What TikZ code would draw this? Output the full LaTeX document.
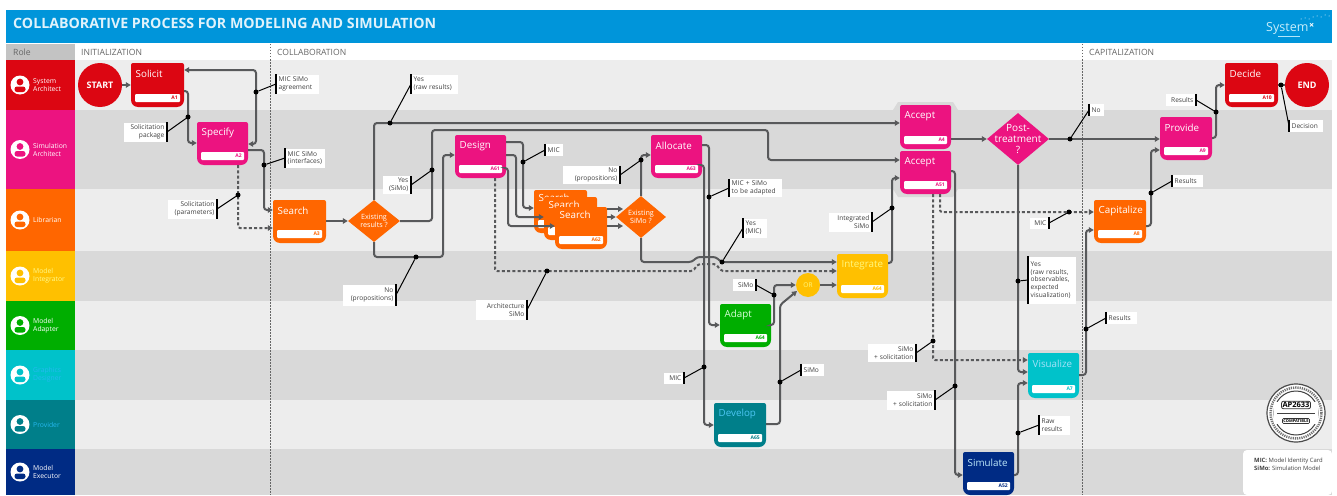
\documentclass[tikz,border=0pt]{standalone}
\usepackage{fontspec}
\setmainfont{Open Sans}
\usetikzlibrary{arrows.meta,shapes.geometric,calc}
\definecolor{cred}{HTML}{DC0612}
\definecolor{cpink}{HTML}{EC1380}
\definecolor{corange}{HTML}{FF6600}
\definecolor{cyellow}{HTML}{FFC000}
\definecolor{cgreen}{HTML}{00AE00}
\definecolor{ccyan}{HTML}{00C2CA}
\definecolor{cteal}{HTML}{007F8A}
\definecolor{cnavy}{HTML}{002B84}
\definecolor{cblue}{HTML}{0095DA}
\definecolor{bandL}{HTML}{EDEDED}
\definecolor{bandD}{HTML}{D9D9D9}
\definecolor{wire}{HTML}{58595B}
\tikzset{
  x=1pt,y=-1pt,
  flow/.style={draw=wire,line width=2pt,rounded corners=3pt,-{Triangle[length=5pt,width=5.5pt]}},
  flowplain/.style={draw=wire,line width=2pt,rounded corners=3pt},
  dflow/.style={draw=wire,line width=2pt,dash pattern=on 3pt off 2.2pt,rounded corners=2pt,-{Triangle[length=5pt,width=5.5pt]}},
  call/.style={draw=black,line width=1pt},
  bardraw/.style={draw=black,line width=1.3pt},
  jdot/.style={circle,fill=black,inner sep=0pt,minimum size=5pt},
  lbl/.style={fill=white,inner sep=0pt,font=\fontsize{6.6}{7.8}\selectfont,text=black!75},
  hdr/.style={font=\fontsize{8.6}{9}\selectfont,text=black!60,anchor=west,inner sep=0pt},
  role/.style={font=\fontsize{6.8}{8}\selectfont,anchor=west,align=left,inner sep=0pt},
  title/.style={font=\fontsize{9.8}{11}\selectfont,anchor=west,inner sep=0pt},
  dia/.style={diamond,aspect=1.2,inner sep=0pt,text=white,align=center},
}
\def\titleoff{11}
% name, x1, y1, x2, y2, colour, title colour, title, id
\newcommand{\proc}[9]{%
  \path[fill=#6,rounded corners=2pt] (#2,{(#3+#5)/2}) -- (#2,#3) -- (#4,#3) -- (#4,{(#3+#5)/2})
     [rounded corners=7pt] -- (#4,#5) -- (#2,#5) -- cycle;
  \node[inner sep=0pt,minimum width={(#4-#2)*1pt},minimum height={(#5-#3)*1pt}] (#1) at ({(#2+#4)/2},{(#3+#5)/2}) {};
  \node[title,text=#7] (#1t) at (#2+4.5,#3+\titleoff) {#8};
  \path[fill=white,rounded corners=1pt] (#2+4,#5-13) rectangle (#4-4,#5-5);
  \node[inner sep=0pt,anchor=east,text=#6,font=\bfseries\fontsize{5}{5}\selectfont] (#1i) at (#4-6,#5-9) {#9};
}
% name, x, y(centre), w, h, side (l: bar on left, r: bar on right), text
\newcommand{\lab}[7]{%
  \ifx l#6\relax
    \node[lbl,anchor=west,minimum width=#4*1pt,minimum height=#5*1pt,text width=(#4-5)*1pt,align=left] (#1) at (#2,#3) {#7};
    \draw[bardraw] (#1.north west) -- (#1.south west);
  \else
    \node[lbl,anchor=east,minimum width=#4*1pt,minimum height=#5*1pt,text width=(#4-5)*1pt,align=right] (#1) at (#2,#3) {#7};
    \draw[bardraw] (#1.north east) -- (#1.south east);
  \fi
}
% name, y-top, y-bottom, colour, text colour, text
\newcommand{\rolecell}[6]{%
  \fill[#4] (6,#2) rectangle (75,#3);
  \node[circle,fill=white,minimum size=19pt,inner sep=0pt] (#1) at (20,{(#2+#3)/2}) {};
  \fill[#4] ($(#1)+(0,-3)$) circle (3.4pt);
  \fill[#4,rounded corners=2.5pt] ($(#1)+(-5.5,7)$) -- ($(#1)+(-5.5,1.5)$) -- ($(#1)+(5.5,1.5)$) -- ($(#1)+(5.5,7)$) -- cycle;
  \node[role,text=#5] (#1t) at (33,{(#2+#3)/2}) {#6};
}
\begin{document}
\begin{tikzpicture}
\useasboundingbox (0,0) rectangle (1337,495);
\fill[white] (0,0) rectangle (1337,495);
% bands
\fill[bandL] (75,60) rectangle (1332,110);
\fill[bandD] (75,110) rectangle (1332,189);
\fill[bandL] (75,189) rectangle (1332,251);
\fill[bandD] (75,251) rectangle (1332,301);
\fill[bandL] (75,301) rectangle (1332,350);
\fill[bandD] (75,350) rectangle (1332,400);
\fill[bandL] (75,400) rectangle (1332,449);
\fill[bandD] (75,449) rectangle (1332,495);
% header
\fill[cblue] (6,10) rectangle (1332,43);
\node[anchor=west,inner sep=0pt,text=white!88!cblue,font=\bfseries\fontsize{14.2}{15}\selectfont] (maintitle) at (13,23) {COLLABORATIVE PROCESS FOR MODELING AND SIMULATION};
\node[anchor=west,inner sep=0pt,text=cyan!22,font=\fontsize{12.5}{13}\selectfont] (logo) at (1266,28) {System};
\node[anchor=west,inner sep=0pt,text=white,font=\bfseries\fontsize{9}{9}\selectfont] (logox) at (1309,26) {×};
\foreach \px/\py in {1301/19,1305/18,1309/19,1313/17,1317/16,1321/17,1325/15,1329/16}
  \fill[white] (\px,\py) circle (.5pt);
\fill[cyan!30] (1278,36) rectangle (1300,37);
\fill[bandD!90!black] (6,44) rectangle (75,60);
\node[hdr] (rolehdr) at (13,52) {Role};
\node[hdr] (h1) at (81,52) {INITIALIZATION};
\node[hdr] (h2) at (277,52) {COLLABORATION};
\node[hdr] (h3) at (1089,52) {CAPITALIZATION};
% roles
\rolecell{r1}{60}{110}{cred}{white}{System\\Architect}
\rolecell{r2}{110}{189}{cpink}{white}{Simulation\\Architect}
\rolecell{r3}{189}{251}{corange}{white}{Librarian}
\rolecell{r4}{251}{301}{cyellow}{yellow!45}{Model\\Integrator}
\rolecell{r5}{301}{350}{cgreen}{white}{Model\\Adapter}
\rolecell{r6}{350}{400}{ccyan}{cyan!85!white}{Graphics\\Designer}
\rolecell{r7}{400}{449}{cteal}{cyan!85!white}{Provider}
\rolecell{r8}{449}{495}{cnavy}{white}{Model\\Executor}
% phase separators
\draw[black!60,line width=1pt,dash pattern=on 1.5pt off 1.5pt] (270,44) -- (270,495);
\draw[black!60,line width=1pt,dash pattern=on 1.5pt off 1.5pt] (1082,44) -- (1082,495);
% halo around the accept activities
\fill[bandD] (898,102) -- (953,102) -- (958,110) -- (958,189) -- (953,197) -- (898,197) -- (893,189) -- (893,110) -- cycle;
% activities
\node[circle,fill=cred,minimum size=44pt,inner sep=0pt,text=white,font=\bfseries\fontsize{9}{9}\selectfont] (start) at (100,85) {START};
\node[circle,fill=cred,minimum size=44pt,inner sep=0pt,text=white,font=\bfseries\fontsize{9}{9}\selectfont] (end) at (1307,85) {END};
\proc{solicit}{131}{63}{184}{107}{cred}{white}{Solicit}{A1}
\proc{specify}{197}{122}{248}{165}{cpink}{white}{Specify}{A2}
\proc{search}{273}{200}{326}{243}{corange}{white}{Search}{A3}
\proc{design}{455}{135}{506}{178}{cpink}{white}{Design}{A61}
\proc{allocate}{651}{135}{702}{178}{cpink}{white}{Allocate}{A63}
\def\titleoff{8}
\proc{searchc}{534}{190}{587}{233}{corange}{white}{Search}{A62}
\proc{searchb}{544}{197}{597}{240}{corange}{white}{Search}{A62}
\proc{searcha}{555}{207}{607}{249}{corange}{white}{Search}{A62}
\def\titleoff{11}
\proc{accepta}{900}{105}{951}{149}{cpink}{white}{Accept}{A4}
\proc{acceptb}{900}{151}{951}{194}{cpink}{white}{Accept}{A51}
\proc{provide}{1160}{117}{1212}{160}{cpink}{white}{Provide}{A9}
\proc{decide}{1225}{63}{1278}{107}{cred}{white}{Decide}{A10}
\proc{capitalize}{1094}{200}{1146}{243}{corange}{white}{Capitalize}{A8}
\proc{integrate}{837}{254}{888}{298}{cyellow}{yellow!50}{Integrate}{A64}
\proc{adapt}{720}{304}{771}{347}{cgreen}{green!15!white}{Adapt}{A64}
\proc{develop}{714}{403}{766}{447}{cteal}{cyan!70!white}{Develop}{A65}
\proc{simulate}{963}{452}{1014}{495}{cnavy}{cyan!25!white}{Simulate}{A52}
\proc{visualize}{1028}{353}{1079}{398}{ccyan}{cyan!35!white}{Visualize}{A7}
\node[circle,fill=cyellow,minimum size=24pt,inner sep=0pt,text=yellow!50,font=\fontsize{6.5}{7}\selectfont] (orgate) at (808,285) {OR};
\node[dia,fill=corange,minimum width=52pt,minimum height=42pt] (exresults) at (374,221) {};
\node[text=white,align=center,inner sep=0pt,font=\fontsize{7.2}{8}\selectfont] (exresultst) at (exresults) {Existing\\results ?};
\node[dia,fill=corange,minimum width=50pt,minimum height=42pt] (exsimo) at (641,217) {};
\node[text=white,align=center,inner sep=0pt,font=\fontsize{7.2}{8}\selectfont] (exsimot) at (exsimo) {Existing\\SiMo ?};
\node[dia,fill=cpink,minimum width=62pt,minimum height=52pt] (post) at (1018,139) {};
\node[text=white,align=center,inner sep=0pt,font=\fontsize{10}{10.5}\selectfont] (postt) at (post) {Post-\\treatment\\?};
% connectors
\draw[flow] (start.east) -- (solicit.west|-0,85);
\draw[flow,{Triangle[length=5pt,width=5.5pt]}-{Triangle[length=5pt,width=5.5pt]}] (solicit.east|-0,70) -- (256,70) -- (256,144) -- (specify.east|-0,144);
\draw[flow] (solicit.east|-0,91) -- (188,91) -- (188,143) -- (specify.west|-0,143);
\draw[flow] (specify.east|-0,150) -- (264,150) -- (264,210) -- (search.west|-0,210);
\draw[dflow] (238,0|-specify.south) -- (238,228) -- (search.west|-0,228);
\draw[flow] (search.east|-0,221) -- (exresults.west);
\draw[flow] (exresults.east) -- (432,221) -- (432,130) -- (768,130) -- (768,160) -- (acceptb.west|-0,160);
\draw[flow] (exresults.north) -- (374,123) -- (accepta.west|-0,123);
\draw[flow] (exresults.south) -- (374,257) -- (443,257) -- (443,155) -- (design.west|-0,155);
\draw[flow] (design.east|-0,142) -- (523,142) -- (523,208) -- (searchc.west|-0,208);
\draw[flow] (design.east|-0,155) -- (516,155) -- (516,217) -- (searchb.west|-0,217);
\draw[flow] (design.east|-0,168) -- (508,168) -- (508,226) -- (searcha.west|-0,226);
\draw[flow] (searcha.east|-0,209) -- (623,209);
\draw[flow] (searcha.east|-0,217) -- (exsimo.west);
\draw[flow] (searcha.east|-0,226) -- (623,226);
\draw[dflow] (495,0|-design.south) -- (495,271) -- (693,271) -- (698,264) -- (716,264) -- (721,271) -- (integrate.west|-0,271);
\draw[flow] (exsimo.north) -- (641,155) -- (allocate.west|-0,155);
\draw[flow] (exsimo.south) -- (641,262) -- (692,262) -- (697,257) -- (716,257) -- (721,262) -- (integrate.west|-0,262);
\draw[flow] (allocate.east|-0,145) -- (709,145) -- (709,325) -- (adapt.west|-0,325);
\draw[flow] (allocate.east|-0,165) -- (704,165) -- (704,425) -- (develop.west|-0,425);
\draw[flow] (adapt.east|-0,325) -- (774,325) -- (774,285) -- (orgate.west);
\draw[flow] (develop.east|-0,424) -- (780,424) -- (780,305) -- (797,291);
\draw[flow] (orgate.east) -- (integrate.west|-0,285);
\draw[flow] (integrate.east|-0,263) -- (892,263) -- (892,178) -- (acceptb.west|-0,178);
\draw[flow] (acceptb.east|-0,171) -- (955,171) -- (955,475) -- (simulate.west|-0,475);
\draw[dflow] (933,0|-acceptb.south) -- (933,360) -- (visualize.west|-0,360);
\draw[dflow] (940,0|-acceptb.south) -- (940,212) -- (capitalize.west|-0,212);
\draw[flow] (post.south) -- (1018,372) -- (visualize.west|-0,372);
\draw[flow] (simulate.east|-0,475) -- (1018,475) -- (1018,383) -- (visualize.west|-0,383);
\draw[flow] (visualize.east|-0,375) -- (1086,375) -- (1086,230) -- (capitalize.west|-0,230);
\draw[flow] (accepta.east|-0,139) -- (post.west);
\draw[flow] (post.east) -- (provide.west|-0,139);
\draw[flow] (capitalize.east|-0,226) -- (1151,226) -- (1151,150) -- (provide.west|-0,150);
\draw[flow] (provide.east|-0,138) -- (1216,138) -- (1216,85) -- (decide.west|-0,85);
\draw[flowplain] (decide.east|-0,85) -- (end.west);
% labels and their callouts
\lab{l1}{276}{84}{43}{19}{l}{MIC SiMo\\agreement}
\node[jdot] (d1) at (256,92) {}; \draw[call] (d1) -- (l1.west);
\lab{l2}{167}{132}{43}{19}{r}{Solicitation\\package}
\node[jdot] (d2) at (188,117) {}; \draw[call] (d2) -- (l2.east);
\lab{l3}{285}{158}{40}{19}{l}{MIC SiMo\\(interfaces)}
\node[jdot] (d3) at (264,165) {}; \draw[call] (d3) -- (l3.west);
\lab{l4}{217}{209}{49}{19}{r}{Solicitation\\(parameters)}
\node[jdot] (d4) at (238,195) {}; \draw[call] (d4) -- (l4.east);
\lab{l5}{411}{84}{47}{19}{l}{Yes\\(raw results)}
\node[jdot] (d5) at (390,123) {}; \draw[call] (d5) -- (l5.west);
\lab{l6}{411}{185}{28}{18}{r}{Yes\\(SiMo)}
\node[jdot] (d6) at (432,170) {}; \draw[call] (d6) -- (l6.east);
\lab{l7}{396}{295}{53}{21}{r}{No\\(propositions)}
\node[jdot] (d7) at (416,257) {}; \draw[call] (d7) -- (l7.east);
\lab{l8}{545}{150}{18}{12}{l}{MIC}
\node[jdot] (d8) at (523,162) {}; \draw[call] (d8) -- (l8.west);
\lab{l9}{620}{175}{57}{18}{r}{No\\(propositions)}
\node[jdot] (d9) at (641,160) {}; \draw[call] (d9) -- (l9.east);
\lab{l10}{729}{188}{53}{18}{l}{MIC + SiMo\\to be adapted}
\node[jdot] (d10) at (709,197) {}; \draw[call] (d10) -- (l10.west);
\lab{l11}{743}{228}{24}{19}{l}{Yes\\(MIC)}
\node[jdot] (d11) at (722,262) {}; \draw[call] (d11) -- (l11.west);
\lab{l12}{527}{310}{51}{20}{r}{Architecture\\SiMo}
\node[jdot] (d12) at (547,271) {}; \draw[call] (d12) -- (l12.east);
\lab{l13}{756}{285}{23}{12}{r}{SiMo}
\node[jdot] (d13) at (774,295) {}; \draw[call] (d13) -- (l13.east);
\lab{l14}{801}{370}{23}{12}{l}{SiMo}
\node[jdot] (d14) at (780,382) {}; \draw[call] (d14) -- (l14.west);
\lab{l15}{684}{378}{20}{11}{r}{MIC}
\node[jdot] (d15) at (704,367) {}; \draw[call] (d15) -- (l15.east);
\lab{l16}{872}{222}{43}{19}{r}{Integrated\\SiMo}
\node[jdot] (d16) at (892,208) {}; \draw[call] (d16) -- (l16.east);
\lab{l17}{935}{400}{48}{19}{r}{SiMo\\+ solicitation}
\node[jdot] (d17) at (955,386) {}; \draw[call] (d17) -- (l17.east);
\lab{l18}{916}{353}{48}{18}{r}{SiMo\\+ solicitation}
\node[jdot] (d18) at (933,341) {}; \draw[call] (d18) -- (l18.east);
\lab{l19}{1049}{223}{19}{11}{r}{MIC}
\node[jdot] (d19) at (1069,212) {}; \draw[call] (d19) -- (l19.east);
\lab{l20}{1028}{280}{48}{47}{l}{Yes\\(raw results,\\observables,\\expected\\visualization)}
\node[jdot] (d20) at (1018,281) {}; \draw[call] (d20) -- (l20.west);
\lab{l21}{1039}{425}{31}{19}{l}{Raw\\results}
\node[jdot] (d21) at (1018,433) {}; \draw[call] (d21) -- (l21.west);
\lab{l22}{1106}{318}{31}{12}{l}{Results}
\node[jdot] (d22) at (1086,329) {}; \draw[call] (d22) -- (l22.west);
\lab{l23}{1089}{110}{15}{12}{l}{No}
\node[jdot] (d23) at (1070,139) {}; \draw[call] (d23) -- (l23.west);
\lab{l24}{1172}{181}{31}{12}{l}{Results}
\node[jdot] (d24) at (1151,193) {}; \draw[call] (d24) -- (l24.west);
\lab{l25}{1196}{100}{30}{12}{r}{Results}
\node[jdot] (d25) at (1216,112) {}; \draw[call] (d25) -- (l25.east);
\lab{l26}{1289}{126}{34}{12}{l}{Decision}
\node[jdot] (d26) at (1281,85) {}; \draw[call] (d26) -- (l26.west);
% stamp
\node[circle,draw=black!70,fill=white,line width=1.2pt,minimum size=58pt,inner sep=0pt] (stamp) at (1296,413) {};
\draw[black!55,line width=2.5pt,dash pattern=on 1.2pt off 1pt] (stamp) circle (25.5pt);
\draw[black!75,line width=1pt] (stamp) circle (22pt);
\fill[white] (1274,402) rectangle (1318,424);
\draw[black!75,line width=1pt] (1277,413) -- (1315,413);
\node[draw=black!80,fill=white,rounded corners=2pt,inner sep=1pt,line width=.8pt,font=\bfseries\fontsize{7.5}{8}\selectfont] (stampa) at (1296,405) {AP2633};
\node[draw=black!80,fill=white,rounded corners=1pt,inner sep=1pt,line width=.6pt,font=\bfseries\fontsize{4}{4}\selectfont] (stampb) at (1296,421) {COMPATIBLE};
% legend
\fill[white,rounded corners=4pt] (1243,450) -- (1332,450) -- (1332,495) -- (1243,495) -- cycle;
\node[anchor=north west,inner sep=0pt,align=left,font=\fontsize{5.9}{7.8}\selectfont,text=black!75] (legend) at (1254,458) {\textbf{MIC:} Model Identity Card\\\textbf{SiMo:} Simulation Model};
\end{tikzpicture}
\end{document}
